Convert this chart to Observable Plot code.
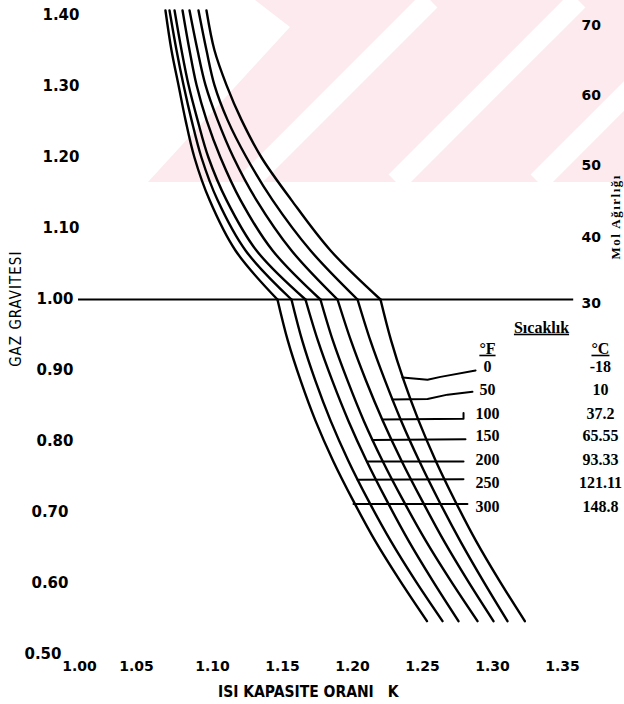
<!DOCTYPE html>
<html>
<head>
<meta charset="utf-8">
<script src="https://cdn.jsdelivr.net/npm/d3@7"></script>
<script src="https://cdn.jsdelivr.net/npm/@observablehq/plot@0.6"></script>
<style>
  body { margin: 0; background: #fff; }
  #wrap { position: relative; width: 624px; height: 704px; overflow: hidden; }
  #bg, #chart { position: absolute; left: 0; top: 0; }
</style>
</head>
<body>
<div id="wrap">
  <svg id="bg" width="624" height="704">
    <polygon points="255,0 290,27 148,182 624,182 624,0" fill="rgb(252,234,238)"></polygon>
    <g stroke="#fff" stroke-width="21">
      <line x1="430" y1="0" x2="248" y2="182"></line>
      <line x1="578" y1="0" x2="396" y2="182"></line>
      <line x1="720" y1="0" x2="538" y2="182"></line>
    </g>
  </svg>
  <div id="chart"></div>
</div>
<script>
// ---- axis ticks ----
const gTicks = [0.5, 0.6, 0.7, 0.8, 0.9, 1.0, 1.1, 1.2, 1.3, 1.4];
const kTicks = [1.00, 1.05, 1.10, 1.15, 1.20, 1.25, 1.30, 1.35];
const molTicks = [30, 40, 50, 60, 70];
const molG = [0.995, 1.088, 1.189, 1.288, 1.386];

// ---- temperatures ----
const tempsF = [0, 50, 100, 150, 200, 250, 300];
const tempsC = ["-18", "10", "37.2", "65.55", "93.33", "121.11", "148.8"];
const tempLabelG = [0.9055, 0.8731, 0.8392, 0.8082, 0.7743, 0.7419, 0.7080];

// ---- curve gravity levels ----
const gUpper = [1.407, 1.351, 1.302, 1.253, 1.200, 1.140, 1.069, 1.000];
const gLower = [1.000, 0.942, 0.886, 0.829, 0.773, 0.717, 0.660, 0.604, 0.547];

// ---- heat capacity ratio k along each temperature curve (gravity >= 1) ----
const up0   = [1.0957, 1.1014, 1.1100, 1.1207, 1.1350, 1.1564, 1.1843, 1.2200];
const up50  = [1.0900, 1.0957, 1.1014, 1.1107, 1.1243, 1.1429, 1.1700, 1.2036];
const up100 = [1.0836, 1.0893, 1.0950, 1.1036, 1.1150, 1.1314, 1.1564, 1.1893];
const up150 = [1.0786, 1.0836, 1.0886, 1.0957, 1.1057, 1.1200, 1.1429, 1.1771];
const up200 = [1.0729, 1.0779, 1.0829, 1.0893, 1.0971, 1.1100, 1.1314, 1.1664];
const up250 = [1.0693, 1.0743, 1.0793, 1.0850, 1.0921, 1.1036, 1.1236, 1.1564];
const up300 = [1.0664, 1.0707, 1.0757, 1.0807, 1.0871, 1.0979, 1.1164, 1.1464];

// ---- k along each curve (gravity <= 1) ----
const lo0   = [1.2200, 1.2276, 1.2366, 1.2473, 1.2594, 1.2731, 1.2882, 1.3049, 1.3231];
const lo50  = [1.2036, 1.2128, 1.2232, 1.2348, 1.2476, 1.2616, 1.2769, 1.2932, 1.3107];
const lo100 = [1.1893, 1.1989, 1.2096, 1.2217, 1.2350, 1.2496, 1.2653, 1.2823, 1.3007];
const lo150 = [1.1771, 1.1860, 1.1964, 1.2081, 1.2214, 1.2362, 1.2524, 1.2701, 1.2893];
const lo200 = [1.1664, 1.1753, 1.1855, 1.1971, 1.2100, 1.2244, 1.2401, 1.2572, 1.2757];
const lo250 = [1.1564, 1.1641, 1.1734, 1.1844, 1.1970, 1.2113, 1.2273, 1.2449, 1.2643];
const lo300 = [1.1464, 1.1538, 1.1629, 1.1736, 1.1861, 1.2004, 1.2162, 1.2339, 1.2532];

// ---- temperature reference lines (k, gravity) ----
const tl0K   = [1.2357, 1.2536, 1.2629, 1.2879]; const tl0G   = [0.890, 0.887, 0.891, 0.900];
const tl50K  = [1.2286, 1.2536, 1.2679, 1.2857]; const tl50G  = [0.859, 0.860, 0.866, 0.870];
const tl100K = [1.2214, 1.2793, 1.2793];         const tl100G = [0.831, 0.832, 0.840];
const tl150K = [1.2143, 1.2807];                 const tl150G = [0.802, 0.803];
const tl200K = [1.2107, 1.2793];                 const tl200G = [0.772, 0.772];
const tl250K = [1.2036, 1.2793];                 const tl250G = [0.746, 0.747];
const tl300K = [1.2007, 1.2821];                 const tl300G = [0.712, 0.712];

// ---- build tables ----
const upK = [up0, up50, up100, up150, up200, up250, up300];
const loK = [lo0, lo50, lo100, lo150, lo200, lo250, lo300];
const curves = tempsF.flatMap((t, i) => [
  ...upK[i].map((k, j) => ({id: "u" + t, k, g: gUpper[j]})),
  ...loK[i].map((k, j) => ({id: "l" + t, k, g: gLower[j]}))
]);
const tlK = [tl0K, tl50K, tl100K, tl150K, tl200K, tl250K, tl300K];
const tlG = [tl0G, tl50G, tl100G, tl150G, tl200G, tl250G, tl300G];
const tempLines = tempsF.flatMap((t, i) => tlK[i].map((k, j) => ({id: t, k, g: tlG[i][j]})));

const serif = "'Liberation Serif', 'DejaVu Serif', serif";
const sans = "'DejaVu Sans', sans-serif";
const cond = "'DejaVu Sans Condensed', 'DejaVu Sans', sans-serif";
const colF = 1.2964, colC = 1.3771;
const yAx = {tickFormat: d3.format(".2f"), tickSize: 0, fontSize: 15, fontWeight: "bold", fontFamily: sans, label: null};
const xAx = {tickFormat: d3.format(".2f"), tickSize: 0, tickPadding: 7, fontSize: 14, fontWeight: "bold", fontFamily: sans, label: null};

const chart = Plot.plot({
  width: 624,
  height: 704,
  marginLeft: 72,
  marginRight: 62,
  marginTop: 15,
  marginBottom: 50,
  style: {background: "transparent", overflow: "visible", fontFamily: sans},
  x: {domain: [1.0, 1.35]},
  y: {domain: [0.5, 1.4]},
  marks: [
    Plot.axisY({...yAx, ticks: gTicks.filter(d => d >= 1.1), tickPadding: -7}),
    Plot.axisY({...yAx, ticks: gTicks.filter(d => d >= 0.8 && d < 1.05), tickPadding: -1}),
    Plot.axisY({...yAx, ticks: gTicks.filter(d => d >= 0.6 && d < 0.75), tickPadding: 4}),
    Plot.axisY({...yAx, ticks: gTicks.filter(d => d < 0.55), tickPadding: 11}),
    Plot.axisX({...xAx, ticks: kTicks.slice(0, 1), dx: 7}),
    Plot.axisX({...xAx, ticks: kTicks.slice(1, 2), dx: -6}),
    Plot.axisX({...xAx, ticks: kTicks.slice(2)}),
    Plot.ruleY([1.0], {x1: 1.0043, x2: 1.358, stroke: "#000", strokeWidth: 2}),
    Plot.line(curves, {x: "k", y: "g", z: "id", curve: "catmull-rom", stroke: "#000", strokeWidth: 2.4, strokeLinecap: "round"}),
    Plot.line(tempLines, {x: "k", y: "g", z: "id", curve: "linear", stroke: "#000", strokeWidth: 2}),
    Plot.text(molTicks, {x: () => 1.3636, y: (d, i) => molG[i], text: d => String(d), textAnchor: "start",
      fontSize: 14, fontWeight: "bold", fontFamily: sans}),
    Plot.text(tempsF, {x: () => colF, y: (d, i) => tempLabelG[i], text: d => String(d),
      fontSize: 16, fontWeight: "bold", fontFamily: serif}),
    Plot.text(tempsC, {x: () => colC, y: (d, i) => tempLabelG[i], text: d => d,
      fontSize: 16, fontWeight: "bold", fontFamily: serif}),
    Plot.text(["Sıcaklık"], {x: () => 1.335, y: () => 0.9605, text: d => d,
      fontSize: 16, fontWeight: "bold", fontFamily: serif}),
    Plot.text(["°F", "°C"], {x: (d, i) => [colF, colC][i], y: () => 0.9309, text: d => d,
      fontSize: 16, fontWeight: "bold", fontFamily: serif}),
    Plot.text(["GAZ GRAVITESI"], {x: () => 0.96, y: () => 0.987, text: d => d, rotate: -90,
      fontSize: 15, fontFamily: cond}),
    Plot.text(["Mol Ağırlığı"], {x: () => 1.3879, y: () => 1.1164, text: d => d, rotate: -90,
      fontSize: 13, fontWeight: "bold", fontFamily: serif}),
    Plot.text(["ISI KAPASITE ORANI\u2003K"], {x: () => 1.1684, y: () => 0.4471, text: d => d,
      fontSize: 15.5, fontWeight: "bold", fontFamily: cond})
  ]
});
document.getElementById("chart").appendChild(chart);
const sel = d3.select(chart).selectAll("text");
sel.filter(function() { return ["Sıcaklık", "°F", "°C"].includes(this.textContent); })
  .style("text-decoration", "underline");
sel.filter(function() { return this.textContent === "GAZ GRAVITESI"; })
  .style("letter-spacing", "1px");
sel.filter(function() { return this.textContent === "Mol Ağırlığı"; })
  .style("letter-spacing", "1.5px");
</script>
</body>
</html>
